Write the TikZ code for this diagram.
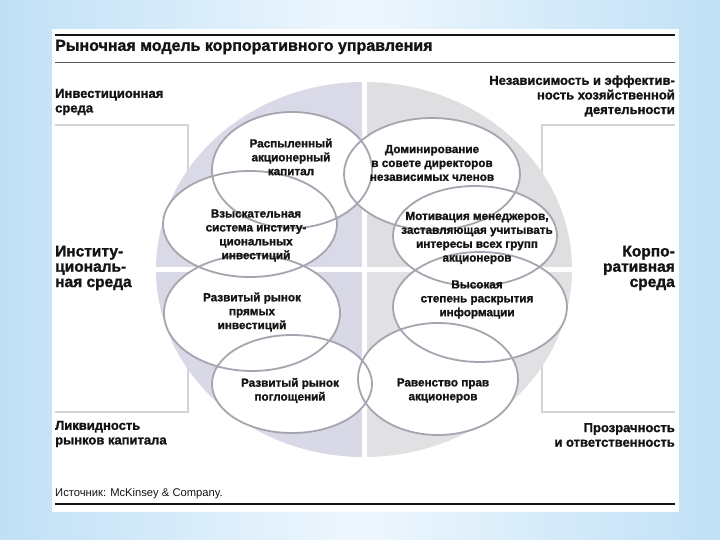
\documentclass[tikz,border=0pt]{standalone}
\usepackage{fontspec}
\setmainfont{Liberation Sans}[BoldFont={Liberation Sans Bold}, BoldFeatures={FakeBold=1.4}]
\definecolor{slideblue}{RGB}{192,224,246}
\definecolor{paleblue}{RGB}{238,247,253}
\definecolor{discul}{RGB}{217,217,231}
\definecolor{discur}{RGB}{223,223,226}
\definecolor{discll}{RGB}{216,216,231}
\definecolor{disclr}{RGB}{225,225,228}
\definecolor{ringgray}{RGB}{165,165,176}
\definecolor{framegray}{RGB}{212,212,214}
\definecolor{ink}{RGB}{20,20,20}
\tikzset{
  ring/.style={draw=ringgray, line width=1.8pt},
  bracket/.style={draw=framegray, line width=2pt},
  txt/.style={font=\bfseries\fontsize{11.7}{13.9}\selectfont, align=center, inner sep=0pt, text=ink},
  side/.style={font=\bfseries\fontsize{13}{14.6}\selectfont, inner sep=0pt, text=ink},
  big/.style={font=\bfseries\fontsize{15.5}{15.3}\selectfont, inner sep=0pt, text=ink},
}
\begin{document}
\begin{tikzpicture}[x=1pt, y=-1pt]
	\useasboundingbox (0,0) rectangle (720,540);
	\shade [left color=slideblue, right color=slideblue, middle color=paleblue] (0,0) rectangle (720,540);
	\fill [white] (52,29) rectangle (679,512);
	% rules
	\draw [line width=2.6pt, ink] (55,35)--(675,35);
	\draw [line width=1.4pt, black!65] (55,62.5)--(675,62.5);
	\draw [line width=2.6pt, ink] (55,504)--(675,504);
	% side brackets
	\draw [bracket] (55,125)--(188,125)--(188,412)--(55,412);
	\draw [bracket] (675,125)--(542,125)--(542,412)--(675,412);
	% big disc in four quarters
	\begin{scope}
		\clip (364,269.5) ellipse [x radius=208, y radius=187.5];
		\fill [discul] (150,75) rectangle (364,269.5);
		\fill [discur] (364,75) rectangle (580,269.5);
		\fill [discll] (150,269.5) rectangle (364,465);
		\fill [disclr] (364,269.5) rectangle (580,465);
		\fill [white] (361.5,75) rectangle (366.5,465);
		\fill [white] (150,267) rectangle (580,272);
	\end{scope}
	% eight rings
	\fill [white] (292,170) ellipse [x radius=80, y radius=58];
	\fill [white] (432,174) ellipse [x radius=88, y radius=56];
	\fill [white] (250,224) ellipse [x radius=87, y radius=53];
	\fill [white] (475,236) ellipse [x radius=82, y radius=50];
	\fill [white] (252,313) ellipse [x radius=88, y radius=58];
	\fill [white] (480,307) ellipse [x radius=87, y radius=55];
	\fill [white] (292,384) ellipse [x radius=80, y radius=49];
	\fill [white] (438,379) ellipse [x radius=80, y radius=56];
	\draw [ring] (292,170) ellipse [x radius=80, y radius=58];
	\draw [ring] (432,174) ellipse [x radius=88, y radius=56];
	\draw [ring] (250,224) ellipse [x radius=87, y radius=53];
	\draw [ring] (475,236) ellipse [x radius=82, y radius=50];
	\draw [ring] (252,313) ellipse [x radius=88, y radius=58];
	\draw [ring] (480,307) ellipse [x radius=87, y radius=55];
	\draw [ring] (292,384) ellipse [x radius=80, y radius=49];
	\draw [ring] (438,379) ellipse [x radius=80, y radius=56];
	% labels
	\node [font=\bfseries\fontsize{16}{17}\selectfont, inner sep=0pt, text=ink, anchor=west] (title) at (55,47) {Рыночная модель корпоративного управления};
	\node [side, anchor=west, align=left] (invenv) at (55,102) {Инвестиционная\\среда};
	\node [side, anchor=east, align=right] (indep) at (675,96) {Независимость и эффектив-\\ность хозяйственной\\деятельности};
	\node [big, anchor=west, align=left] (instenv) at (55,268) {Институ-\\циональ-\\ная среда};
	\node [big, anchor=east, align=right] (corpenv) at (675,268) {Корпо-\\ративная\\среда};
	\node [side, anchor=west, align=left] (liquid) at (55,434) {Ликвидность\\рынков капитала};
	\node [side, anchor=east, align=right] (transp) at (675,435) {Прозрачность\\и ответственность};
	\node [font=\fontsize{11.2}{13}\selectfont, inner sep=0pt, text=ink, anchor=west] (source) at (55,494) {Источник: McKinsey \& Company.};
	\node [txt] (dispersed) at (291,157) {Распыленный\\акционерный\\капитал};
	\node [txt] (board) at (432,163) {Доминирование\\в совете директоров\\независимых членов};
	\node [txt] (demand) at (256,235.5) {Взыскательная\\система институ-\\циональных\\инвестиций};
	\node [txt] (motiv) at (477,238) {Мотивация менеджеров,\\заставляющая учитывать\\интересы всех групп\\акционеров};
	\node [txt] (direct) at (252,312) {Развитый рынок\\прямых\\инвестиций};
	\node [txt] (disclose) at (477,299.5) {Высокая\\степень раскрытия\\информации};
	\node [txt] (takeover) at (290,390.5) {Развитый рынок\\поглощений};
	\node [txt] (equal) at (443,390.5) {Равенство прав\\акционеров};
\end{tikzpicture}
\end{document}
